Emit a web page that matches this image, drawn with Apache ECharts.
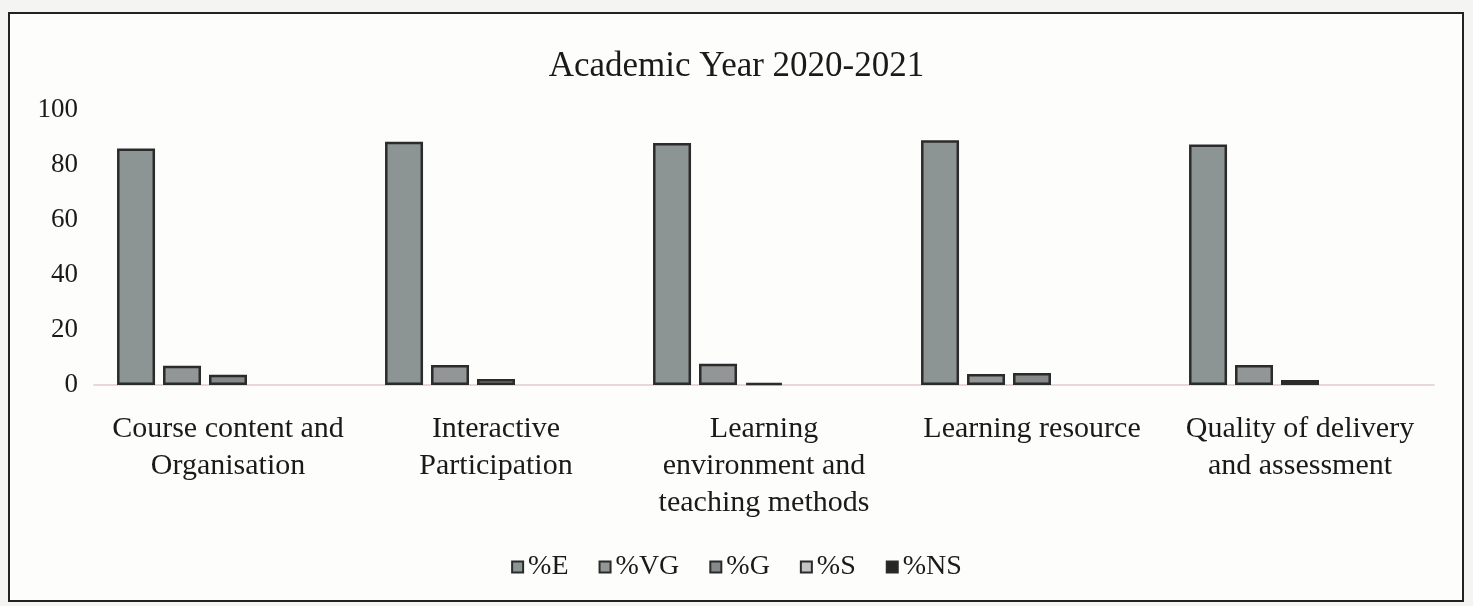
<!DOCTYPE html>
<html>
<head>
<meta charset="utf-8">
<style>
html, body { margin: 0; padding: 0; background: #f4f4f2; }
#frame {
  position: absolute; left: 8px; top: 12px; width: 1452px; height: 586px;
  border: 2px solid #222; background: #fdfdfc;
}
#chart { position: absolute; left: 0; top: 0; width: 1473px; height: 606px; }
</style>
</head>
<body>
<div id="frame"></div>
<div id="chart"></div>
<script src="https://cdn.jsdelivr.net/npm/echarts@6/dist/echarts.min.js"></script>
<script>
// categories and series values
const categories = [
  'Course content and\nOrganisation',
  'Interactive\nParticipation',
  'Learning\nenvironment and\nteaching methods',
  'Learning resource',
  'Quality of delivery\nand assessment'
]
const seriesNames = ['%E', '%VG', '%G', '%S', '%NS']
const valE = [86, 88.5, 88, 89, 87.5]
const valVG = [7, 7.3, 7.7, 4, 7.3]
const valG = [3.7, 2.2, 0.8, 4.4, 1.8]
const valS = [0, 0, 0, 0, 0]
const valNS = [0, 0, 0, 0, 0]
const yTicks = [0, 20, 40, 60, 80, 100]

const colors = ['#8d9494', '#929696', '#858989', '#c4c4c4', '#262626']
const allValues = [valE, valVG, valG, valS, valNS]

const chart = echarts.init(document.getElementById('chart'))
const serif = 'Liberation Serif'

const option = {
  backgroundColor: 'transparent',
  title: {
    text: 'Academic Year 2020-2021',
    left: 'center',
    top: 44,
    textStyle: { fontFamily: serif, fontSize: 35, fontWeight: 'normal', color: '#1a1a1a' }
  },
  legend: {
    data: seriesNames,
    bottom: 20,
    left: 'center',
    itemWidth: 11,
    itemHeight: 11,
    itemGap: 30,
    icon: 'rect',
    textStyle: { fontFamily: serif, fontSize: 28, color: '#1a1a1a' }
  },
  grid: { left: 94, right: 39, top: 110, bottom: 221 },
  xAxis: {
    type: 'category',
    data: categories,
    axisTick: { show: false },
    axisLine: { lineStyle: { color: '#e2c9cc', width: 1.5 } },
    axisLabel: {
      interval: 0,
      margin: 26,
      fontFamily: serif,
      fontSize: 30,
      lineHeight: 37,
      color: '#1a1a1a'
    }
  },
  yAxis: {
    type: 'value',
    min: yTicks[0],
    max: yTicks[yTicks.length - 1],
    interval: 20,
    splitLine: { show: false },
    axisLine: { show: false },
    axisTick: { show: false },
    axisLabel: { fontFamily: serif, fontSize: 27, color: '#1a1a1a', margin: 16 }
  },
  series: seriesNames.map((name, i) => ({
    name: name,
    type: 'bar',
    // zero values are not drawn in the original, so hide their outline
    data: allValues[i].map(v => v === 0 ? { value: v, itemStyle: { borderWidth: 0 } } : v),
    barWidth: 38,
    barGap: '21%',
    itemStyle: { color: colors[i], borderColor: '#2b2b2b', borderWidth: 2.5 }
  }))
}

chart.setOption(option)
window.addEventListener('resize', () => {
  chart.resize()
})
</script>
</body>
</html>
